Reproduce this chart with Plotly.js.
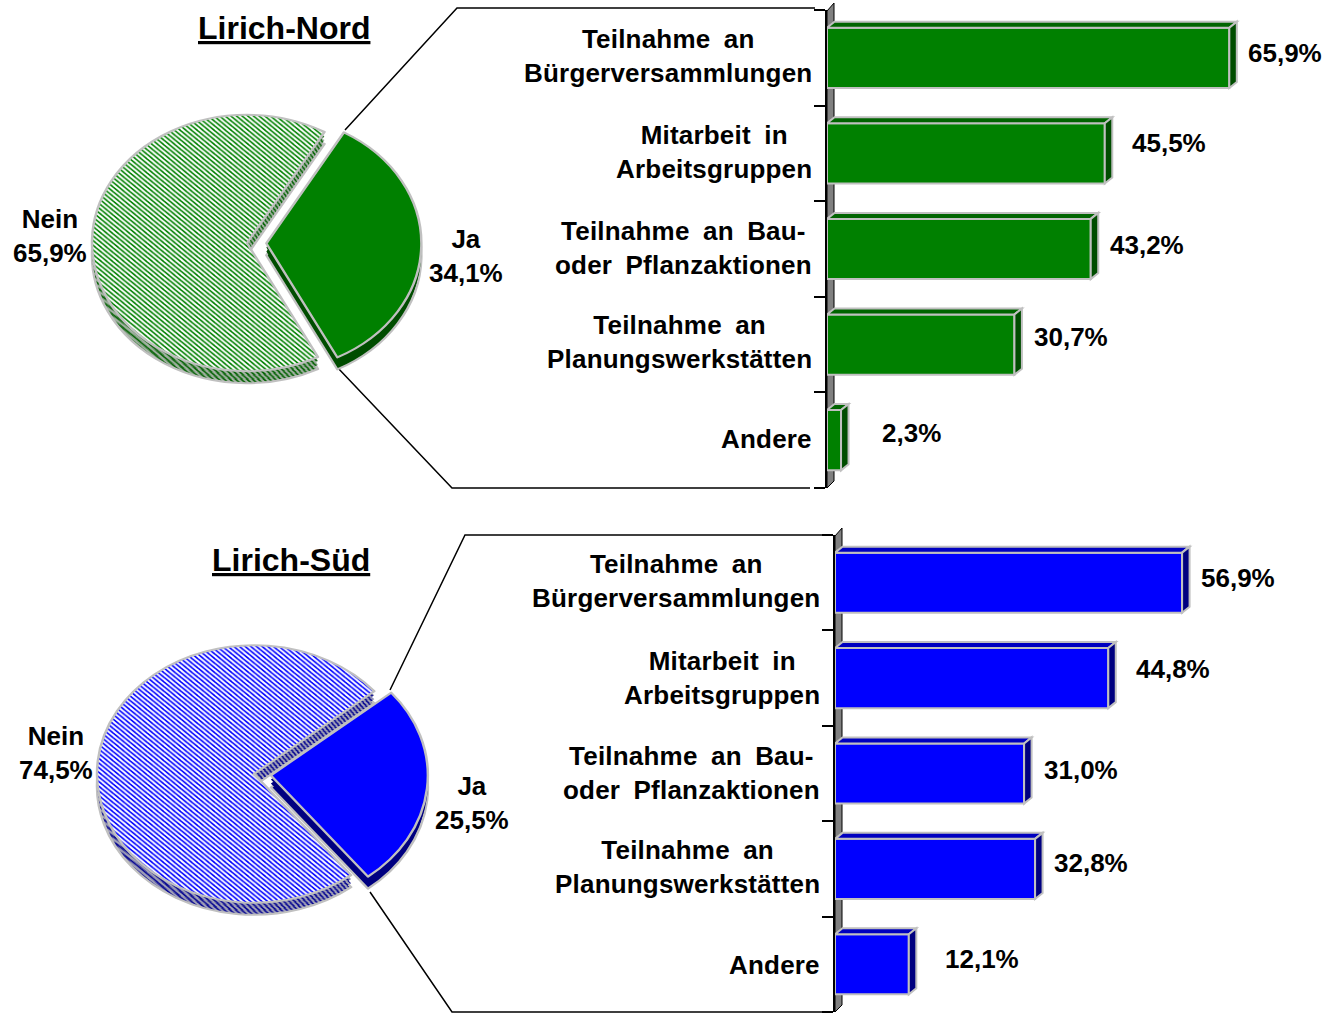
<!DOCTYPE html>
<html>
<head>
<meta charset="utf-8">
<script src="https://cdn.plot.ly/plotly-3.0.1.min.js"></script>
<style>html,body{margin:0;padding:0;background:#fff}#chart{width:1325px;height:1013px}</style>
</head>
<body>
<div id="chart"></div>
<script>
// ---------- data ----------
const categories = [['Teilnahme an','Bürgerversammlungen'],['Mitarbeit in','Arbeitsgruppen'],['Teilnahme an Bau-','oder Pflanzaktionen'],['Teilnahme an','Planungswerkstätten'],['Andere']];
const nordValues = [65.9,45.5,43.2,30.7,2.3];
const suedValues = [56.9,44.8,31.0,32.8,12.1];
const pieLabels = ['Ja','Nein'];
const nordShare = [34.1,65.9];
const suedShare = [25.5,74.5];
const panelTitles = ['Lirich-Nord','Lirich-Süd'];

// ---------- layout helpers ----------
const W=1325,H=1013,FONT='"Liberation Sans",Arial,sans-serif',SILVER='#c0c0c0';
const fx=v=>v/W, fy=v=>1-v/H;
const fmt=v=>v.toFixed(1).replace('.',',')+'%';
const panels=[
 {values:nordValues,share:nordShare,title:panelTitles[0],titleXY:[370,28],axisX:827,top:10,bottom:488,scale:6.105,
  colors:{front:'#008000',top:'#006400',side:'#004d00',hatchDark:'#006000',hatchBg:'#a8b4a8'},
  cx:247,cy:243,r:155,pull:0.125,rot:30,ky:0.827,
  jaXY:[466,256],neinXY:[50,236],
  labelX:[1248,1132,1110,1034,882],labelY:[53,143,245,337,433],catShift:[-1,0,0,-2,0],
  conn:[[345,130,457,8,815,8],[337,367,452,488,810,488]],
  xa:'xaxis',ya:'yaxis',x:'x',y:'y'},
 {values:suedValues,share:suedShare,title:panelTitles[1],titleXY:[370,560],axisX:835,top:535,bottom:1012,scale:6.1,
  colors:{front:'#0000ff',top:'#0000c0',side:'#000080',hatchDark:'#000090',hatchBg:'#a8a8b8'},
  cx:254,cy:774,r:157,pull:0.108,rot:50,ky:0.82,
  jaXY:[472.5,803],neinXY:[56,753],
  labelX:[1201,1136,1044,1054,945],labelY:[578,669,770,863,959],catShift:[-1,0.5,0.5,-0.5,2],
  conn:[[390,690,465,535,822,535],[370,892,452,1012,822,1012]],
  xa:'xaxis2',ya:'yaxis2',x:'x2',y:'y2'}
];
const depthSteps=[12,8,4,0];
const idx=[0,1,2,3,4];
const traces=[],shapes=[],annotations=[],layout={};
const pieTransforms=[];
const ann=(text,x,y,o)=>Object.assign({text:'<b>'+text+'</b>',x:x,y:y,xref:'paper',yref:'paper',showarrow:false,borderpad:0,borderwidth:0,
   font:{family:FONT,size:26,color:'#000'},align:'center'},o||{});
const spaced=lines=>lines.map(l=>'<span style="word-spacing:6px;letter-spacing:0.2px">'+l+'</span>').join('<br>');

panels.forEach(p=>{
  const dx=7.5/p.scale, dy=6/((p.bottom-p.top)/5), half=0.315;
  shapes.push({type:'path',layer:'below',xref:'paper',yref:'paper',fillcolor:'#808080',line:{color:'#000',width:1},
    path:`M${fx(p.axisX)},${fy(p.top+1)} L${fx(p.axisX+7)},${fy(p.top-7)} L${fx(p.axisX+7)},${fy(p.bottom-7)} L${fx(p.axisX)},${fy(p.bottom)} Z`});
  layout[p.xa]={domain:[fx(p.axisX),1],range:[0,(W-p.axisX)/p.scale],showgrid:false,zeroline:false,showline:false,showticklabels:false,ticks:'',anchor:p.y,fixedrange:true};
  layout[p.ya]={domain:[fy(p.bottom),fy(p.top)],range:[4.5,-0.5],tickmode:'array',tickvals:[-0.5,0.5,1.5,2.5,3.5,4.5],ticks:'outside',ticklen:11,tickwidth:2,tickcolor:'#000',
     showticklabels:false,showgrid:false,zeroline:false,showline:true,linecolor:'#000',linewidth:2,anchor:p.x,fixedrange:true};
  traces.push({type:'bar',orientation:'h',x:p.values,y:idx,width:half*2,xaxis:p.x,yaxis:p.y,
     marker:{color:p.colors.front,line:{color:SILVER,width:2}},hoverinfo:'skip',showlegend:false});
  p.values.forEach((v,i)=>{
    const t=i-half,b=i+half;
    shapes.push({type:'path',layer:'above',xref:p.x,yref:p.y,fillcolor:p.colors.top,line:{color:SILVER,width:2},
      path:`M0,${t} L${dx},${t-dy} L${v+dx},${t-dy} L${v},${t} Z`});
    shapes.push({type:'path',layer:'above',xref:p.x,yref:p.y,fillcolor:p.colors.side,line:{color:SILVER,width:2},
      path:`M${v},${t} L${v+dx},${t-dy} L${v+dx},${b-dy} L${v},${b} Z`});
    annotations.push(ann(fmt(v),fx(p.labelX[i]),fy(p.labelY[i]),{xanchor:'left',yanchor:'middle'}));
    annotations.push(ann(spaced(categories[i]),0,i,{xref:p.x,yref:p.y,xanchor:'right',yanchor:'middle',xshift:-15,yshift:1-p.catShift[i]}));
  });
  p.conn.forEach(c=>shapes.push({type:'path',layer:'below',xref:'paper',yref:'paper',line:{color:'#000',width:1.5},
      path:`M${fx(c[0])},${fy(c[1])} L${fx(c[2])},${fy(c[3])} L${fx(c[4])},${fy(c[5])}`}));
  const R=p.r*(1+p.pull);
  depthSteps.forEach(d=>{
    const topLayer=d===0, cy=p.cy+d;
    traces.push({type:'pie',values:p.share,labels:pieLabels,sort:false,direction:'clockwise',rotation:p.rot,pull:[p.pull,0],
      domain:{x:[fx(p.cx-R),fx(p.cx+R)],y:[fy(cy+R),fy(cy-R)]},textinfo:'none',hoverinfo:'skip',showlegend:false,
      marker:{colors:topLayer?[p.colors.front,'#ffffff']:[p.colors.side,p.colors.hatchBg],
        line:{color:SILVER,width:(topLayer||d===depthSteps[0])?2.5:0},
        pattern:{shape:['','\\'],size:4,solidity:0.45,
          fgcolor:topLayer?p.colors.front:p.colors.hatchDark,bgcolor:topLayer?'#ffffff':p.colors.hatchBg,fillmode:'replace'}}});
    pieTransforms.push({cy:cy,k:p.ky});
  });
  annotations.push(ann('<u>'+p.title+'</u>',fx(p.titleXY[0]),fy(p.titleXY[1]),{xanchor:'right',yanchor:'middle',font:{family:FONT,size:32,color:'#000'}}));
  annotations.push(ann(pieLabels[0]+'<br>'+fmt(p.share[0]),fx(p.jaXY[0]),fy(p.jaXY[1]),{xanchor:'center',yanchor:'middle'}));
  annotations.push(ann(pieLabels[1]+'<br>'+fmt(p.share[1]),fx(p.neinXY[0]),fy(p.neinXY[1]),{xanchor:'center',yanchor:'middle'}));
});

Object.assign(layout,{width:W,height:H,margin:{l:0,r:0,t:0,b:0,pad:0},paper_bgcolor:'#fff',plot_bgcolor:'rgba(0,0,0,0)',showlegend:false,
  shapes:shapes,annotations:annotations,bargap:0,font:{family:FONT}});

Plotly.newPlot('chart',traces,layout,{displayModeBar:false,staticPlot:true}).then(()=>{
  // tilt the pies: squash each one vertically about its own centre
  document.querySelectorAll('.pielayer .trace').forEach((g,i)=>{
    const t=pieTransforms[i];
    g.setAttribute('transform',`translate(0,${t.cy}) scale(1,${t.k}) translate(0,${-t.cy})`);
  });
});
</script>
</body>
</html>
